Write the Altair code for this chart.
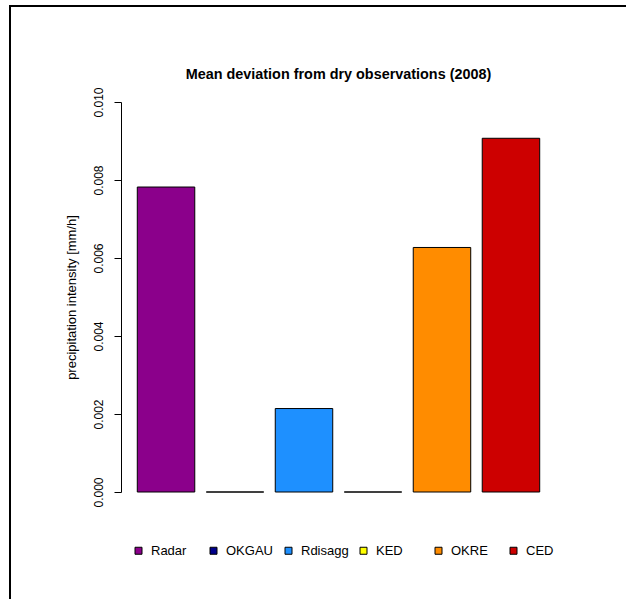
import altair as alt
import pandas as pd

methods = ["Radar", "OKGAU", "Rdisagg", "KED", "OKRE", "CED"]
values = [0.00782, 0.0, 0.00214, 0.0, 0.00627, 0.00907]
colors = ["#8B008B", "#00008B", "#1E90FF", "#FFFF00", "#FF8C00", "#CD0000"]
y_ticks = [0.000, 0.002, 0.004, 0.006, 0.008, 0.010]

df = pd.DataFrame({"method": methods, "value": values})

FONT = "Liberation Sans"
W, H = 435, 390

bars = alt.Chart(df).mark_bar(stroke="black", strokeWidth=1, opacity=1).encode(
    x=alt.X("method:N", sort=methods, axis=None,
            scale=alt.Scale(paddingInner=0.1667, paddingOuter=0.236)),
    y=alt.Y("value:Q",
            scale=alt.Scale(domain=[y_ticks[0], y_ticks[-1]], nice=False),
            axis=alt.Axis(values=y_ticks, format=".3f",
                          title="precipitation intensity [mm/h]",
                          grid=False, tickSize=7, labelPadding=11.5,
                          labelAngle=270, labelAlign="center", labelBaseline="alphabetic",
                          labelFlush=False, labelOverlap=False,
                          labelFont=FONT, labelFontSize=12, labelColor="black",
                          domainColor="black", tickColor="black",
                          titleFont=FONT, titleFontSize=13, titleFontWeight="normal",
                          titleColor="black", titleAngle=270, titleAlign="center",
                          titleBaseline="alphabetic", titleX=-46, titleY=H / 2)),
    color=alt.Color("method:N", sort=methods,
                    scale=alt.Scale(domain=methods, range=colors),
                    legend=alt.Legend(orient="none", legendX=11, legendY=442,
                                      direction="horizontal", columns=6, gridAlign="all",
                                      columnPadding=8, symbolType="square", symbolSize=49,
                                      symbolStrokeColor="black", symbolStrokeWidth=1,
                                      symbolOpacity=1,
                                      labelFont=FONT, labelFontSize=13, labelColor="black",
                                      labelOffset=6, title=None, padding=0)),
)

frame_df = pd.DataFrame({"k": [0]})
left_line = alt.Chart(frame_df).mark_rule(color="black", strokeWidth=2).encode(
    x=alt.value(-111), y=alt.value(-96), y2=alt.value(H + 110))
top_line = alt.Chart(frame_df).mark_rule(color="black", strokeWidth=2).encode(
    x=alt.value(-112), x2=alt.value(W + 75), y=alt.value(-96))

chart = alt.layer(bars, left_line, top_line).properties(
    width=W, height=H,
    title=alt.TitleParams(text="Mean deviation from dry observations (2008)",
                          font=FONT, fontSize=14.4, fontWeight="bold", color="black",
                          anchor="middle", frame="group", offset=0,
                          baseline="alphabetic", dy=88),
    autosize=alt.AutoSizeParams(type="none"),
    padding={"left": 121, "top": 102, "right": 70, "bottom": 107},
    background="white",
).configure_view(strokeWidth=0)

chart.save("out.html", embed_options={"renderer": "svg", "actions": False})
